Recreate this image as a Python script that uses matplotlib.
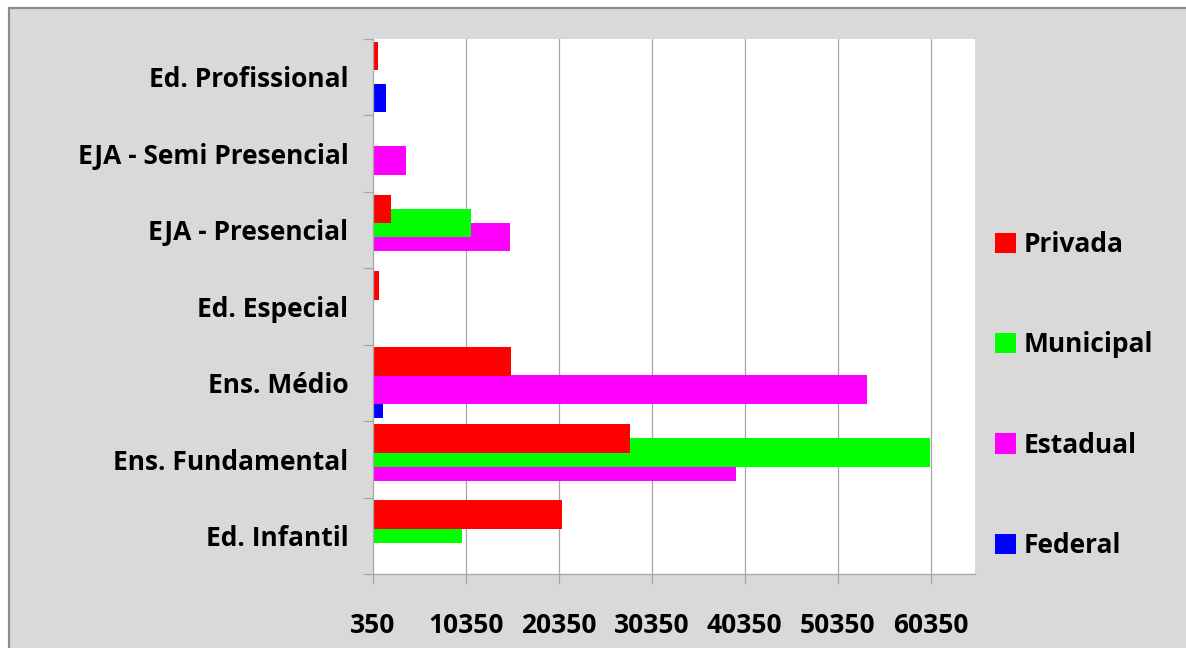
import matplotlib
matplotlib.use("Agg")
import matplotlib.pyplot as plt
from matplotlib.patches import Rectangle
import numpy as np

plt.rcParams['font.family'] = ['Open Sans', 'DejaVu Sans']
plt.rcParams['font.weight'] = 'bold'

# Enrollment by level of education and administrative network
categories = ["Ed. Infantil", "Ens. Fundamental", "Ens. Médio", "Ed. Especial",
              "EJA - Presencial", "EJA - Semi Presencial", "Ed. Profissional"]
series_names = ["Privada", "Municipal", "Estadual", "Federal"]
privada = [20700, 28000, 15200, 1030, 2320, 0, 920]
municipal = [9960, 60300, 0, 0, 10930, 0, 0]
estadual = [0, 39430, 53440, 0, 15130, 3930, 0]
federal = [0, 0, 1450, 0, 0, 0, 1780]
x_ticks = [350, 10350, 20350, 30350, 40350, 50350, 60350]
x_tick_labels = ["350", "10350", "20350", "30350", "40350", "50350", "60350"]

colors = {"Privada": "#FF0000", "Municipal": "#00FF00",
          "Estadual": "#FF00FF", "Federal": "#0000FF"}
values = {"Privada": privada, "Municipal": municipal,
          "Estadual": estadual, "Federal": federal}
offsets = {"Privada": 0.2745, "Municipal": 0.0915,
           "Estadual": -0.0915, "Federal": -0.2745}

FS = 19
W, H = 1186, 648
fig = plt.figure(figsize=(W / 100, H / 100), dpi=100, facecolor="white")

# grey chart area with a thin border
fig.patches.append(Rectangle((8.5 / W, -0.1), 1.2, (H - 8.5) / H + 0.1,
                             transform=fig.transFigure, facecolor="#D9D9D9",
                             edgecolor="#8C8C8C", linewidth=1.6, zorder=-5))

ax = fig.add_axes([372.7 / W, 1 - 574 / H, (975 - 372.7) / W, (574 - 38.7) / H])
ax.set_facecolor("white")

y = np.arange(len(categories))
bars = {}
# drawn back to front: Federal underneath, Privada on top
for z, name in enumerate(reversed(series_names)):
    bars[name] = ax.barh(y + offsets[name], values[name], height=0.375,
                         color=colors[name], zorder=3 + z, label=name)

ax.set_xlim(350, 65100)
ax.set_ylim(-0.5, len(categories) - 0.5)

grid_col = "#A6A6A6"
ax.set_xticks(x_ticks)
ax.set_xticklabels(x_tick_labels, fontsize=FS, fontweight="bold")
for xv in x_ticks[1:]:
    ax.axvline(xv, color=grid_col, linewidth=0.9, zorder=1)
ax.tick_params(axis="x", direction="out", length=7.2, width=0.9,
               color=grid_col, pad=20)

ax.set_yticks(np.arange(-0.5, len(categories), 1.0))
ax.set_yticklabels([])
ax.set_yticks(y, minor=True)
ax.set_yticklabels(categories, minor=True, fontsize=FS, fontweight="bold")
ax.tick_params(axis="y", which="major", direction="out", length=7.2,
               width=0.9, color=grid_col)
ax.tick_params(axis="y", which="minor", length=0, pad=17.5)

for s in ["top", "right"]:
    ax.spines[s].set_visible(False)
for s in ["left", "bottom"]:
    ax.spines[s].set_color(grid_col)
    ax.spines[s].set_linewidth(0.9)
    ax.spines[s].set_zorder(10)

handles = [bars[n] for n in series_names]
fig.legend(handles, series_names, loc="center left",
           bbox_to_anchor=(995 / W, 1 - 395 / H), frameon=False,
           handlelength=0.8, handleheight=0.8,
           handletextpad=0.3, labelspacing=2.78, borderpad=0,
           borderaxespad=0, prop={"weight": "bold", "size": FS})

fig.savefig("out.png", dpi=100, facecolor="white")
